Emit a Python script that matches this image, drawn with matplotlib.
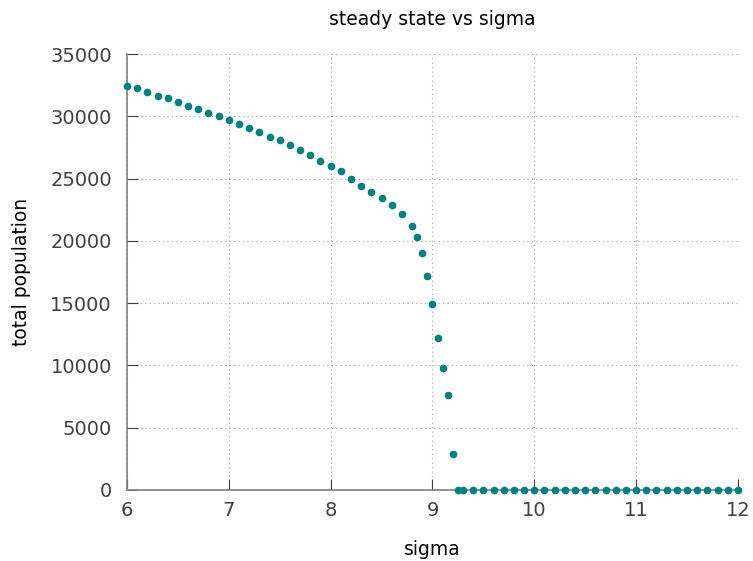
import numpy as np
import matplotlib
matplotlib.use("Agg")
import matplotlib.pyplot as plt

# sigma values: 0.1 steps, finer (0.05) near the collapse
sigma = [6.0, 6.1, 6.2, 6.3, 6.4, 6.5, 6.6, 6.7, 6.8, 6.9,
         7.0, 7.1, 7.2, 7.3, 7.4, 7.5, 7.6, 7.7, 7.8, 7.9,
         8.0, 8.1, 8.2, 8.3, 8.4, 8.5, 8.6, 8.7, 8.8, 8.85,
         8.9, 8.95, 9.0, 9.05, 9.1, 9.15, 9.2, 9.25,
         9.3, 9.4, 9.5, 9.6, 9.7, 9.8, 9.9, 10.0,
         10.1, 10.2, 10.3, 10.4, 10.5, 10.6, 10.7, 10.8, 10.9, 11.0,
         11.1, 11.2, 11.3, 11.4, 11.5, 11.6, 11.7, 11.8, 11.9, 12.0]

population = [32420, 32240, 31920, 31650, 31470, 31150, 30850, 30590, 30290, 30000,
              29710, 29410, 29040, 28750, 28370, 28080, 27710, 27310, 26930, 26430,
              26030, 25570, 24990, 24400, 23920, 23440, 22850, 22160, 21200, 20350,
              18990, 17170, 14930, 12210, 9810, 7600, 2850, 0,
              0, 0, 0, 0, 0, 0, 0, 0,
              0, 0, 0, 0, 0, 0, 0, 0, 0, 0,
              0, 0, 0, 0, 0, 0, 0, 0, 0, 0]

textcol = "#404040"

fig = plt.figure(figsize=(7.53, 5.61), dpi=100)
ax = fig.add_axes([0.1687, 0.1266, 0.8113, 0.7771])

ax.plot(sigma, population, "o", color="#008080", markersize=4.5, clip_on=False, zorder=3)

ax.set_xlim(6, 12)
ax.set_ylim(0, 35000)
ax.set_xticks(np.arange(6, 13, 1))
ax.set_yticks(np.arange(0, 35001, 5000))

ax.grid(True, linestyle=(0, (1, 3)), color="#a0a0a0", linewidth=0.8)
for side in ["top", "right"]:
    ax.spines[side].set_visible(False)
for side in ["left", "bottom"]:
    ax.spines[side].set_color("#808080")
    ax.spines[side].set_linewidth(1.2)

ax.tick_params(direction="in", length=8, color="#404040", labelsize=14,
               labelcolor=textcol)
ax.tick_params(axis="y", pad=11)
ax.tick_params(axis="x", pad=8)

ax.set_title("steady state vs sigma", fontsize=13.5, color="black", pad=21)
ax.set_xlabel("sigma", fontsize=13.5, color="black", labelpad=14)
ax.set_ylabel("total population", fontsize=13.5, color="black", labelpad=14)

plt.savefig("out.png", dpi=100)
